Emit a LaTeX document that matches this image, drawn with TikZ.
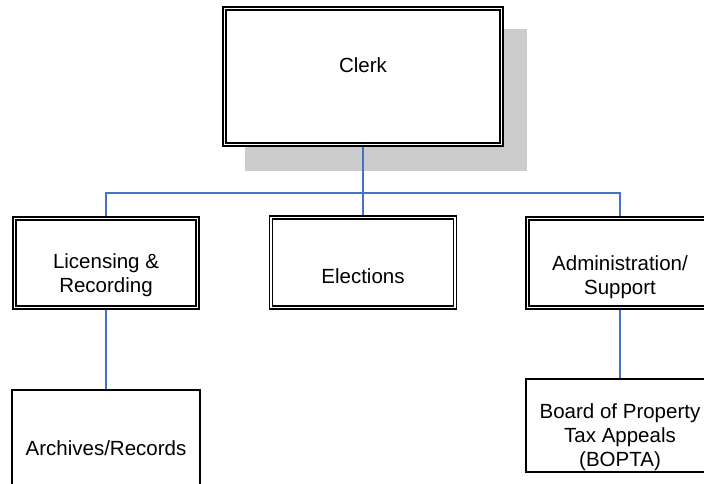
\documentclass[tikz,border=0pt]{standalone}
\usepackage{fontspec}
\setmainfont{Liberation Sans}
\usepackage{xcolor}
\usetikzlibrary{positioning, backgrounds}

\definecolor{linkblue}{RGB}{68,114,196}
\definecolor{shadowgray}{RGB}{204,204,204}

\begin{document}
\begin{tikzpicture}[
        x=1pt,
        y=-1pt,
        line join=miter,
        unitbox/.style={draw, fill=white, double, double distance=1.8pt,
            line width=1.4pt, inner sep=0pt},
        plainbox/.style={draw, fill=white, line width=1.4pt, inner sep=0pt},
        unittext/.style={align=center, inner sep=0pt,
            font=\fontsize{20.5}{24}\selectfont},
        link/.style={draw=linkblue, line width=1.5pt}
    ]

        % =================================
        % KHUNG HÌNH
        % =================================
        \useasboundingbox (0,0) rectangle (704,483);
        \clip (0,0) rectangle (704,483);


        % =================================
        % CÁC Ô
        % =================================

        % Clerk
        \node[unitbox, minimum width=277, minimum height=136]
            (clerk) at (363,76.5) {};
        \node[unittext] (clerktext) at (363,65) {Clerk};

        % hàng thứ hai
        \node[unitbox, minimum width=183, minimum height=89]
            (lic) at (106,263) {};
        \node[unittext] (lictext) at (106,275.5) {Licensing \&\\Recording};

        \node[unitbox, minimum width=184, minimum height=90]
            (elec) at (363,262.5) {};
        \node[unittext] (electext) at (363,276) {Elections};

        \node[unitbox, minimum width=185, minimum height=89]
            (admin) at (620,263) {};
        \node[unittext] (admintext) at (620,277.5) {Administration/\\Support};

        % hàng thứ ba
        \node[plainbox, minimum width=188, minimum height=105]
            (arch) at (106,442.5) {};
        \node[unittext] (archtext) at (106,448) {Archives/Records};

        \node[plainbox, minimum width=188, minimum height=93]
            (bopta) at (620,425.5) {};
        \node[unittext] (boptatext) at (620,437.5)
            {Board of Property\\Tax Appeals\\(BOPTA)};

        \coordinate (bus) at (363,193);


        % =================================
        % BÓNG VÀ ĐƯỜNG NỐI
        % =================================
        \begin{scope}[on background layer]

            % bóng của Clerk
            \fill[shadowgray]
                (245,29) rectangle (527,171);

            % Clerk xuống thanh ngang
            \draw[link]
                (clerk.south) -- (bus);

            \draw[link]
                (bus) -| (lic.north);

            \draw[link]
                (bus) -- (elec.north);

            \draw[link]
                (bus) -| (admin.north);

            % hàng thứ ba
            \draw[link]
                (lic.south) -- (arch.north);

            \draw[link]
                (admin.south) -- (bopta.north);

        \end{scope}

    \end{tikzpicture}
\end{document}
